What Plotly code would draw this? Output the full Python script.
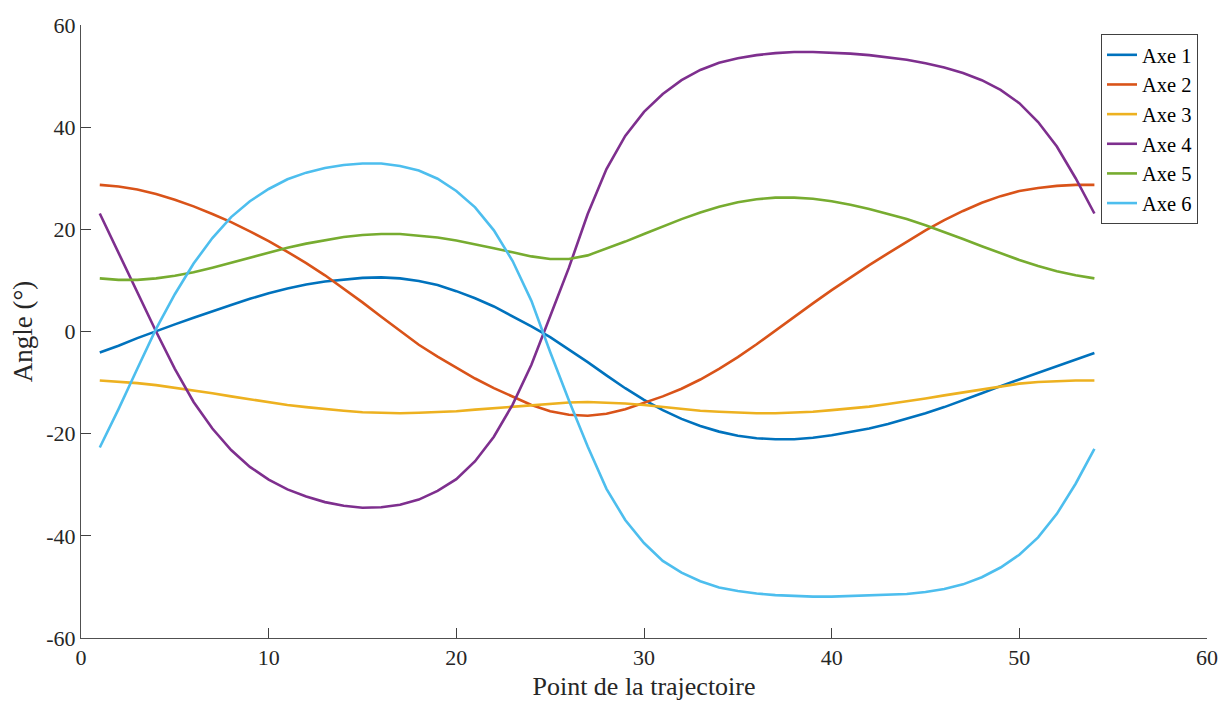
import plotly.graph_objects as go

points = list(range(1, 55))

axe1 = [-4.1, -2.8, -1.3, 0.1, 1.4, 2.7, 4.0, 5.2, 6.4, 7.5,
        8.4, 9.2, 9.8, 10.2, 10.5, 10.6, 10.4, 9.9, 9.1, 7.9,
        6.5, 4.9, 3.0, 1.0, -1.1, -3.5, -6.0, -8.6, -11.1, -13.4,
        -15.4, -17.1, -18.5, -19.6, -20.4, -20.9, -21.1, -21.1, -20.8, -20.3,
        -19.7, -19.0, -18.1, -17.1, -16.0, -14.8, -13.5, -12.1, -10.7, -9.4,
        -8.1, -6.8, -5.5, -4.2]

axe2 = [28.7, 28.4, 27.8, 26.9, 25.8, 24.5, 23.0, 21.4, 19.6, 17.7,
        15.6, 13.4, 11.0, 8.4, 5.7, 2.9, 0.1, -2.6, -4.9, -7.1,
        -9.2, -11.1, -12.8, -14.4, -15.6, -16.3, -16.5, -16.1, -15.2, -14.0,
        -12.7, -11.2, -9.4, -7.3, -5.0, -2.5, 0.2, 2.9, 5.5, 8.1,
        10.6, 13.0, 15.3, 17.6, 19.8, 21.8, 23.6, 25.2, 26.5, 27.5,
        28.1, 28.5, 28.7, 28.7]

axe3 = [-9.6, -9.8, -10.1, -10.5, -11.0, -11.5, -12.1, -12.7, -13.3, -13.9,
        -14.4, -14.8, -15.2, -15.5, -15.8, -15.9, -16.0, -15.9, -15.8, -15.6,
        -15.3, -15.0, -14.7, -14.4, -14.1, -13.9, -13.8, -13.9, -14.1, -14.4,
        -14.8, -15.2, -15.5, -15.7, -15.9, -16.0, -16.0, -15.9, -15.7, -15.4,
        -15.1, -14.7, -14.2, -13.7, -13.1, -12.5, -11.9, -11.3, -10.7, -10.2,
        -9.9, -9.7, -9.6, -9.6]

axe4 = [23.1, 15.3, 7.6, 0.0, -7.3, -13.8, -19.0, -23.2, -26.5, -29.0,
        -30.9, -32.3, -33.4, -34.1, -34.5, -34.4, -33.9, -32.9, -31.2, -28.9,
        -25.4, -20.6, -14.3, -6.5, 3.0, 12.5, 23.0, 31.8, 38.3, 43.0,
        46.5, 49.2, 51.2, 52.6, 53.5, 54.1, 54.5, 54.7, 54.7, 54.6,
        54.4, 54.1, 53.7, 53.2, 52.5, 51.7, 50.6, 49.2, 47.3, 44.7,
        41.0, 36.2, 30.0, 23.1]

axe5 = [10.4, 10.1, 10.1, 10.4, 10.9, 11.6, 12.5, 13.5, 14.5, 15.5,
        16.4, 17.2, 17.9, 18.5, 18.9, 19.1, 19.1, 18.8, 18.4, 17.8,
        17.1, 16.3, 15.5, 14.7, 14.2, 14.2, 14.9, 16.2, 17.6, 19.1,
        20.6, 22.0, 23.3, 24.4, 25.3, 25.9, 26.2, 26.2, 26.0, 25.5,
        24.8, 24.0, 23.0, 22.0, 20.8, 19.5, 18.1, 16.7, 15.3, 14.0,
        12.8, 11.8, 11.0, 10.4]

axe6 = [-22.7, -15.2, -7.3, 0.5, 7.3, 13.3, 18.3, 22.4, 25.5, 27.9,
        29.8, 31.1, 32.0, 32.6, 32.9, 32.9, 32.4, 31.5, 29.9, 27.5,
        24.3, 19.8, 13.8, 6.0, -4.0, -13.5, -22.5, -30.8, -36.9, -41.4,
        -44.9, -47.2, -48.9, -50.1, -50.8, -51.3, -51.6, -51.8, -51.9, -51.9,
        -51.8, -51.7, -51.6, -51.4, -51.0, -50.4, -49.5, -48.1, -46.2, -43.7,
        -40.3, -35.7, -29.8, -23.0]

series_names = ["Axe 1", "Axe 2", "Axe 3", "Axe 4", "Axe 5", "Axe 6"]
series_values = [axe1, axe2, axe3, axe4, axe5, axe6]
colors = ["#0072BD", "#D95319", "#EDB120", "#7E2F8E", "#77AC30", "#4DBEEE"]

x_ticks = [0, 10, 20, 30, 40, 50, 60]
x_ticktext = ["0", "10", "20", "30", "40", "50", "60"]
y_ticks = [-60, -40, -20, 0, 20, 40, 60]
y_ticktext = ["-60", "-40", "-20", "0", "20", "40", "60"]

FONT = "Liberation Serif"

fig = go.Figure()
for name, vals, col in zip(series_names, series_values, colors):
    fig.add_trace(go.Scatter(x=points, y=vals, mode="lines", name=name,
                             line=dict(color=col, width=2.6)))

axis_common = dict(
    showgrid=False, zeroline=False, showline=True, linecolor="#505050",
    linewidth=1, ticks="inside", ticklen=10, tickwidth=1, tickcolor="#404040",
    tickfont=dict(family=FONT, size=22, color="#262626"), mirror=False,
    automargin=False,
)

# page body has an 8px margin: figure is sized so the plot lands at
# 81..1207 x 25..638 in the 1227x701 window
fig.update_layout(
    width=1219, height=693,
    margin=dict(l=73, r=20, t=17, b=63),
    paper_bgcolor="white", plot_bgcolor="white",
    font=dict(family=FONT, color="#262626"),
    xaxis=dict(range=[0, 60], tickvals=x_ticks, ticktext=x_ticktext,
               title=dict(text="Point de la trajectoire",
                          font=dict(family=FONT, size=26, color="#262626"),
                          standoff=9),
               **axis_common),
    yaxis=dict(range=[-60, 60], tickvals=y_ticks, ticktext=y_ticktext,
               title=dict(text="Angle (°)",
                          font=dict(family=FONT, size=27, color="#262626"),
                          standoff=10),
               **axis_common),
    legend=dict(x=(1198 - 81) / 1126, y=(638 - 34) / 613, xanchor="right", yanchor="top",
                bgcolor="white", bordercolor="#404040", borderwidth=1,
                font=dict(family=FONT, size=20.5, color="#000000"),
                itemwidth=30, tracegroupgap=0),
    showlegend=True,
)

fig.write_html("out.html")
